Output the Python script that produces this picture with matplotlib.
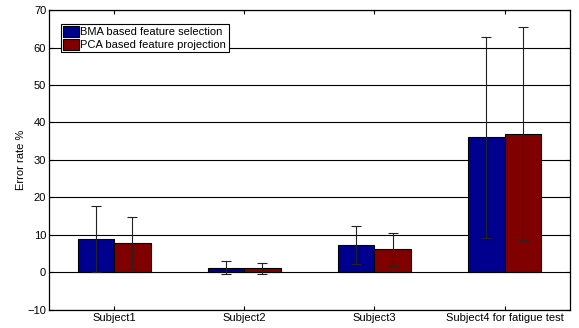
import matplotlib
matplotlib.use('Agg')
import matplotlib.pyplot as plt
import numpy as np

plt.rcParams['font.family'] = ['Liberation Sans', 'DejaVu Sans']

subjects = ['Subject1', 'Subject2', 'Subject3', 'Subject4 for fatigue test']
bma = [8.9, 1.3, 7.4, 36.1]
bma_err = [8.7, 1.75, 5.1, 26.8]
pca = [7.9, 1.1, 6.15, 37.0]
pca_err = [7.0, 1.4, 4.5, 28.4]

fig = plt.figure(figsize=(5.79, 3.28), dpi=100)
ax = fig.add_axes([0.0846, 0.0549, 0.8994, 0.9146])

x = np.arange(1, len(subjects) + 1)
w = 0.28
ax.bar(x - w/2, bma, w, color='#00008f', edgecolor='black', linewidth=0.8,
       label='BMA based feature selection', zorder=3)
ax.bar(x + w/2, pca, w, color='#800000', edgecolor='black', linewidth=0.8,
       label='PCA based feature projection', zorder=3)
ax.errorbar(x - w/2, bma, yerr=bma_err, fmt='none', ecolor='#222222',
            elinewidth=0.8, capsize=3.5, capthick=0.8, zorder=4)
ax.errorbar(x + w/2, pca, yerr=pca_err, fmt='none', ecolor='#222222',
            elinewidth=0.8, capsize=3.5, capthick=0.8, zorder=4)

ax.set_xlim(0.5, 4.5)
ax.set_ylim(-10, 70)
ax.set_yticks(range(-10, 71, 10))
ax.set_yticklabels(['\u221210'] + [str(v) for v in range(0, 71, 10)])
ax.set_xticks(x)
ax.set_xticklabels(subjects)
ax.yaxis.grid(True, color='black', linewidth=0.8, zorder=0)
ax.set_axisbelow(True)
ax.tick_params(direction='in', top=True, right=True, labelsize=8, length=3, pad=2)
for s in ax.spines.values():
    s.set_linewidth(0.9)
ax.set_ylabel('Error rate %', fontsize=8, labelpad=1)

leg = ax.legend(loc='upper left', bbox_to_anchor=(0.023, 0.953), fontsize=8,
                frameon=True, fancybox=False, edgecolor='black', framealpha=1,
                handlelength=1.4, handleheight=1.1, handletextpad=0.15,
                borderpad=0.2, labelspacing=0.15, borderaxespad=0)
leg.get_frame().set_linewidth(0.8)

fig.savefig('out.png', dpi=100)
